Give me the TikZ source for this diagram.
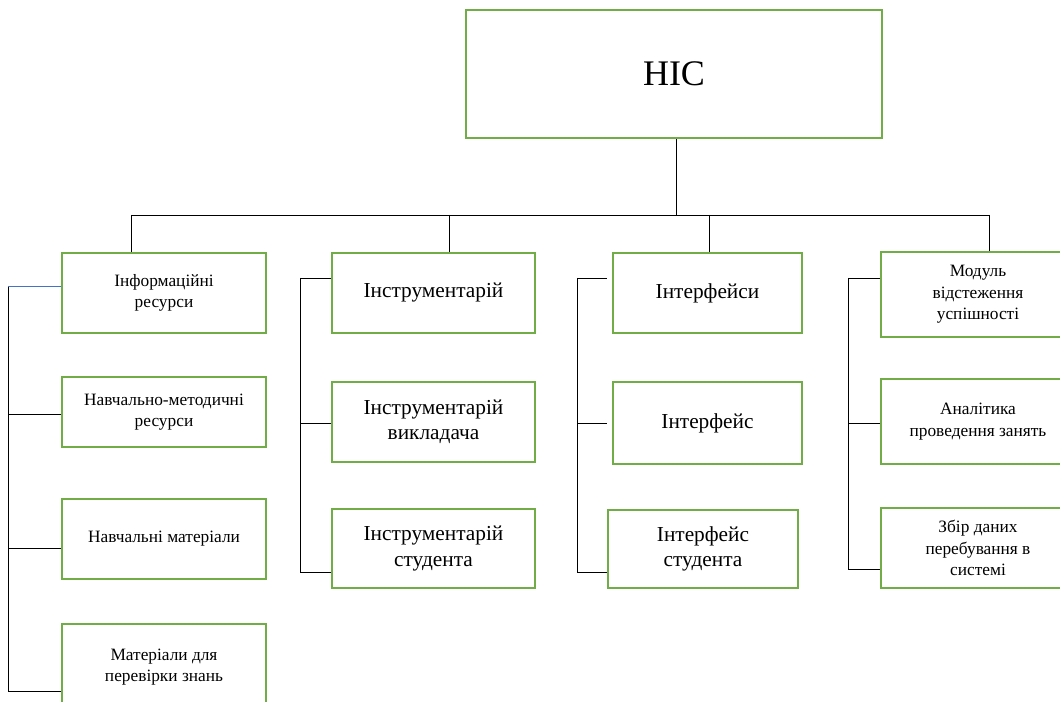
\documentclass[tikz,border=0pt]{standalone}
\usepackage{fontspec}
\setmainfont{Liberation Serif}
\definecolor{boxgreen}{RGB}{112,173,71}
\definecolor{linkblue}{RGB}{68,114,196}

\begin{document}
\begin{tikzpicture}[x=0.75pt,y=-0.75pt,
  box/.style={draw=boxgreen, line width=2pt, rectangle, inner sep=0pt,
              align=center, text=black},
  small/.style={box, minimum width=153pt, font=\fontsize{13}{16}\selectfont},
  mid/.style={box, font=\fontsize{16}{19}\selectfont},
  side/.style={box, minimum width=145.5pt, font=\fontsize{13}{16}\selectfont},
  link/.style={line width=0.7pt, black}]
\useasboundingbox (0,0) rectangle (1060,702);
\begin{scope}
\clip (0,0) rectangle (1060,702);

% root
\node[box, minimum width=312pt, minimum height=96pt,
      font=\fontsize{27}{30}\selectfont] (root) at (674,74) {НІС};

% first column: resources
\node[small, minimum height=60pt]   (a1) at (164,293) {Інформаційні\\ресурси};
\node[small, minimum height=52.5pt] (a2) at (164,412) {Навчально-методичні\\ресурси};
\node[small, minimum height=60pt]   (a3) at (164,539) {Навчальні матеріали};
\node[small, minimum height=64.5pt] (a4) at (164,667) {Матеріали для\\перевірки знань};

% second column: tools
\node[mid, minimum width=152.25pt, minimum height=60pt]    (b1) at (433.5,293) {Інструментарій};
\node[mid, minimum width=152.25pt, minimum height=60pt]    (b2) at (433.5,422) {Інструментарій\\викладача};
\node[mid, minimum width=152.25pt, minimum height=59.25pt] (b3) at (433.5,548.5) {Інструментарій\\студента};

% third column: interfaces
\node[mid, minimum width=141.75pt, minimum height=60pt]   (c1) at (707.5,293) {Інтерфейси};
\node[mid, minimum width=141.75pt, minimum height=61.5pt] (c2) at (707.5,423) {Інтерфейс};
\node[mid, minimum width=142.5pt,  minimum height=58.5pt] (c3) at (703,549) {Інтерфейс\\студента};

% fourth column: monitoring
\node[side, minimum height=63.75pt] (d1) at (978,294.5) {Модуль\\відстеження\\успішності};
\node[side, minimum height=63.75pt] (d2) at (978,421.5) {Аналітика\\проведення занять};
\node[side, minimum height=60pt]    (d3) at (978,548) {Збір даних\\перебування в\\системі};

% main bus
\coordinate (hub) at (676,215);
\coordinate (dropA) at (131,215);
\coordinate (dropB) at (449,215);
\coordinate (dropC) at (709,215);
\coordinate (dropD) at (989,215);
\draw[link] (root.south -| hub) -- (hub);
\draw[link] (dropA) -- (dropD);
\draw[link] (dropA) -- (dropA |- a1.north);
\draw[link] (dropB) -- (dropB |- b1.north);
\draw[link] (dropC) -- (dropC |- c1.north);
\draw[link] (dropD) -- (dropD |- d1.north);

% column spines
\coordinate (jA1) at (8,286);   \coordinate (jA2) at (8,414);
\coordinate (jA3) at (8,548);   \coordinate (jA4) at (8,691);
\draw[link] (jA1) -- (jA4);
\draw[line width=0.7pt, linkblue] (jA1) -- (jA1 -| a1.west);
\draw[link] (jA2) -- (jA2 -| a2.west);
\draw[link] (jA3) -- (jA3 -| a3.west);
\draw[link] (jA4) -- (jA4 -| a4.west);

\coordinate (jB1) at (300,278); \coordinate (jB2) at (300,423);
\coordinate (jB3) at (300,572);
\draw[link] (jB1) -- (jB3);
\draw[link] (jB1) -- (jB1 -| b1.west);
\draw[link] (jB2) -- (jB2 -| b2.west);
\draw[link] (jB3) -- (jB3 -| b3.west);

\coordinate (jC1) at (577,278); \coordinate (jC2) at (577,423);
\coordinate (jC3) at (577,572);
\draw[link] (jC1) -- (jC3);
\draw[link, shorten >=3.5pt] (jC1) -- (jC1 -| c1.west);
\draw[link, shorten >=3.5pt] (jC2) -- (jC2 -| c2.west);
\draw[link] (jC3) -- (jC3 -| c3.west);

\coordinate (jD1) at (848,278); \coordinate (jD2) at (848,423);
\coordinate (jD3) at (848,569);
\draw[link] (jD1) -- (jD3);
\draw[link] (jD1) -- (jD1 -| d1.west);
\draw[link] (jD2) -- (jD2 -| d2.west);
\draw[link] (jD3) -- (jD3 -| d3.west);
\end{scope}
\end{tikzpicture}
\end{document}
